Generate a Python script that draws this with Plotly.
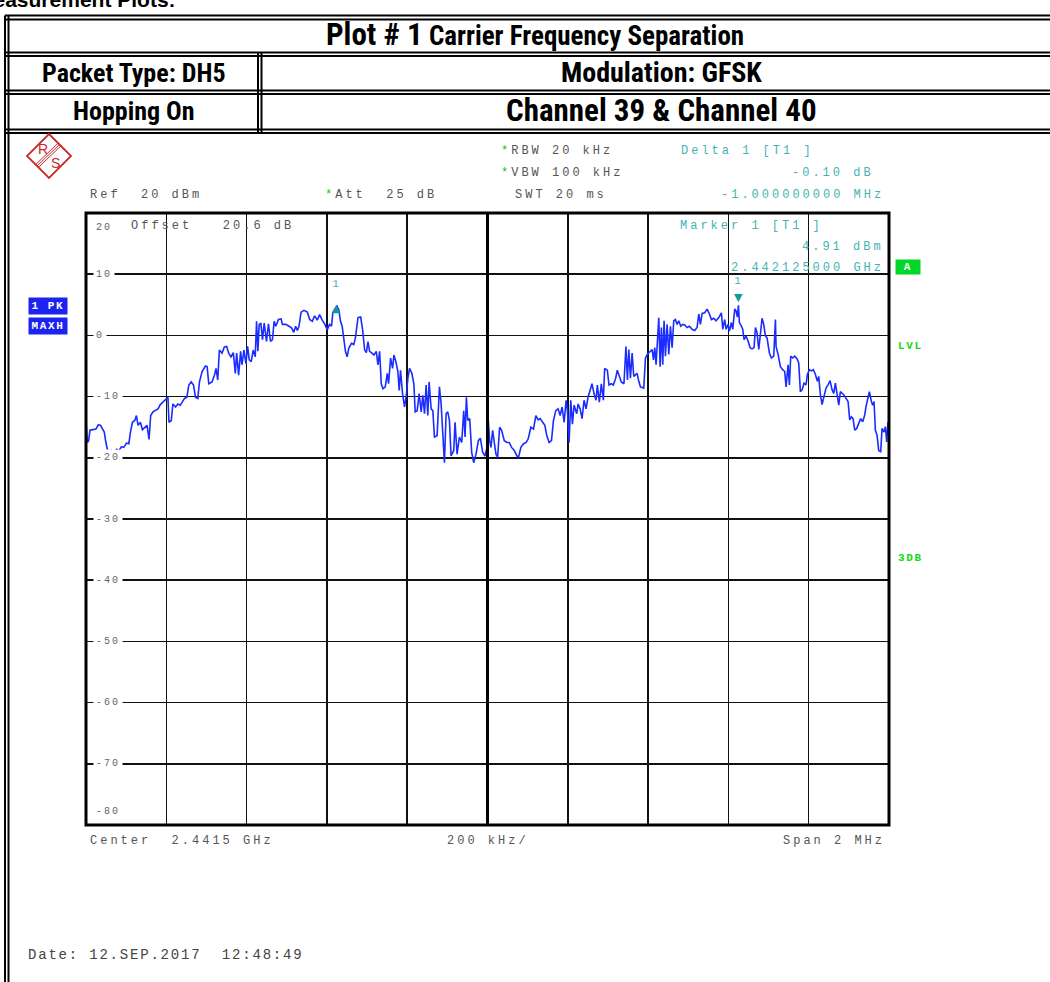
import plotly.graph_objects as go

# ---------------- data ----------------
CENTER_GHZ = 2.4415
SPAN_GHZ = 0.002
START_GHZ = CENTER_GHZ - SPAN_GHZ / 2
DIV_GHZ = 0.0002
Y_TOP = 20
Y_BOTTOM = -80
Y_TICKS = [20, 10, 0, -10, -20, -30, -40, -50, -60, -70, -80]

MARKER1_GHZ = 2.442125
MARKER1_DBM = 4.91
DELTA1_GHZ = 2.441125
DELTA1_DBM = 4.81

# trace: frequency offset from start of span (kHz) and level (dBm)
FREQ_KHZ_A = [0, 3.3, 6.6, 9.9, 16.5, 24.8, 30.6, 36.4, 41.3, 45.5,
              49.6, 55.4, 63.6, 69.4, 76.0, 82.6, 88.4, 94.2, 100.8, 106.6,
              110.7, 115.7, 121.5, 125.6, 129.7, 135.5, 140.5, 146.3, 152.1, 157.0,
              161.1, 166.9, 173.5, 179.3, 185.1, 191.7, 198.3, 204.1, 206.6, 212.4,
              216.5, 223.1, 228.9, 234.7, 239.7, 245.4, 251.2, 256.2, 262.0, 267.8,
              272.7, 278.5, 282.6, 289.2, 297.5, 301.6, 305.8, 314.0, 319.8, 323.9,
              328.1, 332.2, 338.8, 344.6, 350.4, 355.4, 361.1, 366.9, 371.9, 375.2,
              380.1, 385.1, 388.4, 393.4, 398.3, 402.5, 406.6, 411.5, 416.5, 421.5,
              424.8, 428.1, 431.4, 435.5, 439.6, 443.8, 449.6, 454.5, 459.5, 464.4,
              468.6, 472.7, 479.3, 485.9, 489.2, 497.5, 505.8, 512.4, 517.3, 522.3,
              526.4, 530.5, 535.7, 543.0, 551.3, 557.0, 563.6, 569.4, 575.9, 581.8,
              588.4, 595.0, 600.8, 606.6, 611.5, 614.8, 621.5, 625.0, 629.7, 633.9,
              638.0, 642.1, 646.2, 650.4, 654.5, 661.1, 666.9, 671.0]
LEVEL_A = [-13.9, -17.5, -17.2, -15.5, -15.4, -15.3, -14.6, -14.7, -15.3, -15.8,
           -17.5, -19.3, -18.8, -19.3, -18.6, -18.8, -18.2, -18.3, -17.6, -17.7,
           -15.8, -14.2, -13.9, -13.1, -14.7, -14.2, -15.4, -15.0, -14.7, -17.0,
           -13.1, -12.5, -12.3, -12.0, -11.3, -10.9, -10.6, -10.1, -14.2, -13.9,
           -11.2, -11.7, -11.2, -11.4, -10.9, -10.3, -10.1, -8.1, -7.6, -8.1,
           -10.1, -10.3, -7.6, -5.9, -5.0, -5.1, -7.9, -7.6, -6.5, -5.4,
           -7.3, -2.4, -2.9, -1.9, -1.8, -2.9, -3.5, -2.8, -6.2, -2.9,
           -6.5, -2.6, -4.8, -2.4, -4.6, -1.8, -4.0, -4.3, -2.4, -3.5,
           2.3, -2.6, 1.8, 2.0, -0.7, 2.0, -1.0, 1.9, -1.0, -0.7,
           2.3, 1.5, 2.6, 2.7, 1.8, 1.8, 1.5, 1.2, 0.5, 1.5,
           0.8, 1.5, 3.8, 4.1, 3.8, 2.6, 2.3, 3.2, 2.5, 3.4,
           2.5, 1.8, 0.9, 1.8, 1.5, 3.7, 4.5, 4.81, 4.2, 2.3,
           1.5, -0.2, -2.6, -3.5, -2.1, -1.3, -1.5, -0.4]

FREQ_KHZ_B = [677.5, 684.1, 689.0, 694.0, 698.2, 702.3, 706.4, 712.2, 717.2, 723.0,
              727.1, 731.3, 735.4, 739.6, 745.4, 750.3, 753.6, 758.6, 763.6, 766.9,
              771.8, 776.8, 780.1, 783.4, 788.4, 793.4, 798.3, 801.7, 805.8, 811.6,
              816.6, 819.9, 824.8, 829.8, 834.8, 838.9, 843.1, 847.2, 851.3, 854.6,
              859.6, 863.8, 867.9, 874.5, 880.3, 884.5, 888.6, 892.7, 896.9, 901.0,
              905.2, 909.3, 915.9, 919.2, 924.2, 930.0, 935.8, 940.8, 944.1, 947.4,
              950.7, 955.7, 960.6, 965.6, 971.4, 977.2, 982.2, 988.0, 993.8, 998.7,
              1002.0, 1005.3, 1008.7, 1012.8, 1016.9, 1021.1, 1025.2, 1030.2, 1035.2, 1041.8,
              1048.4, 1054.2, 1060.0, 1066.6, 1073.2, 1077.4, 1083.2, 1089.8, 1096.4, 1101.4,
              1108.0, 1114.6, 1120.4, 1126.2, 1131.2, 1137.0, 1142.8, 1147.8, 1153.5, 1159.4,
              1164.3, 1170.1, 1175.9, 1180.9, 1185.8, 1190.8, 1195.8, 1199.1, 1203.2, 1207.4,
              1211.5, 1215.7, 1222.3, 1225.6, 1230.6, 1235.5, 1240.5, 1245.5, 1250.4, 1255.4,
              1260.3, 1265.3, 1270.3, 1273.6, 1278.5, 1283.5, 1288.5, 1291.8, 1298.5, 1302.6,
              1308.4, 1313.4, 1319.2, 1323.3, 1328.3, 1333.3, 1339.9, 1344.8]
LEVEL_B = [2.9, 3.0, 0.9, -2.4, -2.8, -1.0, -2.6, -2.9, -3.2, -2.6,
           -4.8, -2.6, -7.9, -8.7, -8.4, -6.2, -7.9, -3.7, -5.4, -3.2,
           -4.3, -5.9, -9.0, -5.7, -9.5, -11.7, -9.5, -7.0, -5.4, -6.2,
           -7.9, -12.5, -12.3, -9.5, -12.5, -9.8, -12.8, -8.1, -13.1, -7.6,
           -12.0, -12.3, -16.6, -16.4, -8.4, -11.2, -16.1, -20.8, -12.8, -12.5,
           -13.9, -19.7, -18.8, -14.2, -19.4, -16.6, -17.5, -12.3, -16.6, -10.1,
           -13.9, -13.6, -19.1, -20.8, -19.4, -17.2, -16.8, -19.1, -19.7, -18.3,
           -13.9, -17.2, -18.3, -15.5, -17.5, -19.4, -19.9, -15.0, -15.5, -17.2,
           -17.5, -17.5, -18.3, -18.8, -19.7, -19.9, -18.3, -17.7, -17.5, -16.9,
           -15.0, -15.3, -13.1, -13.8, -13.6, -14.2, -14.7, -16.4, -17.5, -17.2,
           -13.9, -12.3, -12.0, -13.1, -11.7, -14.2, -10.6, -12.3, -17.5, -10.6,
           -14.5, -11.4, -12.8, -11.2, -12.0, -13.6, -10.6, -12.0, -10.1, -9.0,
           -7.9, -9.5, -10.6, -8.1, -10.9, -7.9, -10.6, -5.4, -5.7, -8.1,
           -7.9, -8.1, -7.0, -5.7, -6.8, -7.6, -7.9, -1.8]

FREQ_KHZ_C = [1348.5, 1351.9, 1356.0, 1360.2, 1364.3, 1368.5, 1372.6, 1376.8, 1380.9, 1385.1,
              1389.2, 1393.4, 1400.0, 1405.8, 1410.0, 1413.3, 1416.6, 1419.9, 1423.2, 1426.6,
              1429.9, 1433.2, 1436.5, 1439.8, 1443.2, 1447.3, 1451.5, 1455.6, 1459.8, 1463.9,
              1468.1, 1472.2, 1476.4, 1481.3, 1486.3, 1491.3, 1497.1, 1502.9, 1509.6, 1516.2,
              1522.0, 1526.2, 1530.3, 1534.5, 1541.1, 1546.9, 1552.7, 1557.7, 1563.5, 1569.3,
              1576.0, 1582.6, 1585.9, 1590.9, 1594.2, 1599.2, 1602.5, 1607.5, 1610.8, 1615.8,
              1619.1, 1622.4, 1625.0, 1627.4, 1632.4, 1635.7, 1639.0, 1644.0, 1649.0, 1654.0,
              1659.0, 1663.9, 1667.3, 1671.4, 1675.6, 1680.5, 1683.9, 1688.0, 1692.2, 1696.3,
              1702.1, 1707.1, 1712.9, 1717.1, 1718.7, 1723.7, 1729.5, 1735.3, 1740.3, 1743.6,
              1748.6, 1751.9, 1755.2, 1760.2, 1765.2, 1771.0, 1775.2, 1779.3, 1783.5, 1788.4,
              1793.4, 1796.7, 1801.7, 1806.7, 1811.7, 1816.7, 1821.6, 1825.0, 1829.1, 1833.3,
              1838.2, 1843.2, 1848.2, 1853.2, 1858.2, 1862.3, 1866.5, 1870.6, 1874.8, 1878.9,
              1883.1, 1887.2, 1893.0, 1898.0, 1902.2, 1906.3, 1910.5, 1914.6, 1919.6, 1924.6,
              1929.5, 1934.5, 1939.5, 1942.8, 1947.8, 1951.1, 1956.1, 1959.4, 1962.7, 1966.1,
              1970.2, 1974.4, 1979.4, 1982.7, 1987.6, 1991.0, 1994.3, 1997.6, 2000.0]
LEVEL_C = [-7.3, -2.3, -7.0, -2.9, -6.7, -6.4, -6.2, -7.5, -8.4, -8.5,
           -8.6, -3.7, -2.9, -2.6, -2.3, -4.0, -2.0, -4.8, 0.2, 2.9,
           -5.1, 1.3, -4.8, 2.4, -3.4, 1.8, -3.1, 1.5, -2.0, 2.4,
           2.6, 1.8, 2.4, 1.5, 1.8, 1.7, 1.3, 1.5, 1.0, 0.8,
           1.3, 3.5, 1.8, 3.6, 3.7, 4.3, 3.5, 2.6, 2.8, 2.4,
           2.9, 3.7, 1.0, 2.6, 1.0, 1.8, 0.7, 2.1, 1.0, 4.3,
           4.0, 3.0, 4.91, 2.1, 1.5, 1.0, -0.7, -0.1, -0.9, -2.0,
           -2.2, -2.0, 1.3, 0.4, -2.3, 0.2, 2.8, 1.8, -0.1, -0.4,
           -2.9, -3.7, -3.4, 2.6, -1.8, -3.1, -5.1, -5.6, -5.9, -8.4,
           -4.8, -8.1, -3.4, -3.7, -3.4, -3.8, -4.5, -9.2, -8.9, -7.8,
           -8.1, -6.4, -5.6, -5.8, -5.6, -6.4, -7.5, -6.7, -9.7, -11.3,
           -10.0, -8.6, -8.1, -7.4, -8.9, -9.5, -7.8, -9.6, -11.4, -9.2,
           -9.5, -9.7, -10.3, -10.8, -13.8, -13.3, -13.6, -15.5, -15.2, -14.4,
           -13.6, -14.1, -13.0, -11.6, -10.3, -9.2, -10.8, -11.4, -10.8, -15.5,
           -16.3, -18.8, -19.0, -15.2, -15.8, -14.9, -17.4, -14.1, -15.8]

# ---------------- geometry ----------------
W, H = 1050, 982
PL, PR, PT, PB = 86, 889, 213, 825


def X(px):
    return (px - PL) / (PR - PL)


def Y(py):
    return (PB - py) / (PB - PT)


MONO = "Liberation Mono, Courier New, monospace"
NARROW = "Liberation Sans Narrow, Arial Narrow, Roboto Condensed, Liberation Sans, sans-serif"
GRAY = "#555555"
TEAL = "#45b3b3"
TEAL_D = "#10999a"
GREEN = "#12d912"
BLUE = "#1a2cff"

freq_khz = FREQ_KHZ_A + FREQ_KHZ_B + FREQ_KHZ_C
level = LEVEL_A + LEVEL_B + LEVEL_C
freq_ghz = [START_GHZ + k / 1e6 for k in freq_khz]

fig = go.Figure()
fig.add_trace(go.Scatter(x=freq_ghz, y=level, mode="lines",
                         line=dict(color=BLUE, width=1.6), hoverinfo="skip",
                         showlegend=False))

annotations = []
shapes = []


def txt(text, px, py, xanchor="left", size=12, color=GRAY, family=MONO, **kw):
    d = dict(text=text, x=X(px), y=Y(py), xref="paper", yref="paper",
             xanchor=xanchor, yanchor="middle", showarrow=False,
             font=dict(family=family, size=size, color=color),
             align={"left": "left", "right": "right"}.get(xanchor, "center"))
    d.update(kw)
    annotations.append(d)


def line_px(x0, y0, x1, y1, width=2, color="black"):
    shapes.append(dict(type="line", xref="paper", yref="paper",
                       x0=X(x0), y0=Y(y0), x1=X(x1), y1=Y(y1),
                       line=dict(color=color, width=width), layer="above"))


# ---------------- header table ----------------
for yy in (15.5, 19.5, 52.5, 56, 90.5, 94, 129.5, 133):
    line_px(5, yy, 1052, yy, width=2)
for xx in (5, 8.5):
    line_px(xx, 15.5, xx, 984, width=2)
for xx in (258, 261.5):
    line_px(xx, 52.5, xx, 133, width=2)

txt("<b>Measurement Plots:</b>", 178, 0, xanchor="right", size=21,
    color="black", family="Liberation Sans, Arial, sans-serif")
txt("<b><span style='font-size:31px'>Plot # 1</span> Carrier Frequency Separation</b>",
    535, 35, xanchor="center", size=27, color="black", family=NARROW)
txt("<b>Packet Type: DH5</b>", 134, 73, xanchor="center", size=26, color="black", family=NARROW)
txt("<b>Modulation: GFSK</b>", 661, 73, xanchor="center", size=28, color="black", family=NARROW)
txt("<b>Hopping On</b>", 134, 111, xanchor="center", size=26, color="black", family=NARROW)
txt("<b>Channel 39 &amp; Channel 40</b>", 661, 111, xanchor="center", size=31,
    color="black", family=NARROW)

# ---------------- R&S logo ----------------
RED = "#cc2a2a"
shapes.append(dict(type="path", xref="paper", yref="paper",
                   path="M {} {} L {} {} L {} {} L {} {} Z".format(
                       X(49), Y(134), X(71), Y(156), X(49), Y(178), X(27), Y(156)),
                   line=dict(color=RED, width=1.8), layer="above"))
for off in (-2, 0, 2):
    line_px(37 + off * 0.7, 166 + off * 0.7, 60 + off * 0.7, 144 + off * 0.7, width=1, color=RED)
txt("R", 43, 149, xanchor="center", size=14, color=RED, family="Liberation Sans, sans-serif")
txt("S", 55, 163, xanchor="center", size=14, color=RED, family="Liberation Sans, sans-serif")

# ---------------- instrument settings text ----------------
STAR = "<span style='color:#00cc00'>*</span>"
txt("Ref  20 dBm", 88, 195)
txt(STAR + "Att  25 dB", 323, 195)
txt(STAR + "RBW 20 kHz", 499, 151)
txt(STAR + "VBW 100 kHz", 499, 173)
txt("SWT 20 ms", 513, 195)
txt("Delta 1 [T1 ]", 679, 151, color=TEAL)
txt("-0.10 dB", 876, 173, xanchor="right", color=TEAL)
txt("-1.000000000 MHz", 886, 195, xanchor="right", color=TEAL)
txt("Offset   20.6 dB", 129, 226)
txt("Marker 1 [T1 ]", 678, 226, color=TEAL)
txt("4.91 dBm", 886, 247, xanchor="right", color=TEAL)
txt("2.442125000 GHz", 886, 268, xanchor="right", color=TEAL)

txt("<b>1 PK</b>", 48, 306, xanchor="center", size=11, color="white",
    bgcolor="#1c22f0", width=36, height=14)
txt("<b>MAXH</b>", 48, 326, xanchor="center", size=11, color="white",
    bgcolor="#1c22f0", width=36, height=14)
txt("<b>A</b>", 908, 267, xanchor="center", size=11, color="white",
    bgcolor="#00d828", width=22, height=12)
txt("<b>LVL</b>", 896, 346, size=11, color=GREEN)
txt("<b>3DB</b>", 896, 558, size=11, color=GREEN)

txt("Center  2.4415 GHz", 88, 841)
txt("200 kHz/", 445, 841)
txt("Span 2 MHz", 887, 841, xanchor="right")
txt("Date: 12.SEP.2017  12:48:49", 26, 955, size=14, color="#444444")

# ---------------- y labels inside grid ----------------
for v in Y_TICKS:
    lab = str(v)
    shift = 0
    if v == Y_TOP:
        shift = -14
    elif v == Y_BOTTOM:
        shift = 14
    annotations.append(dict(text=lab, x=X(93), y=v, xref="paper", yref="y",
                            xanchor="left", yanchor="middle", yshift=shift,
                            showarrow=False, align="left",
                            font=dict(family=MONO, size=10, color="#666666"),
                            bgcolor="white" if v not in (Y_TOP, Y_BOTTOM) else None,
                            borderpad=2, width=8 * len(lab)))

# ---------------- markers ----------------
annotations.append(dict(text="▲", x=DELTA1_GHZ, y=DELTA1_DBM, xref="x", yref="y",
                        showarrow=False, yshift=-3, font=dict(size=11, color=TEAL_D,
                                                              family="DejaVu Sans")))
annotations.append(dict(text="1", x=DELTA1_GHZ, y=DELTA1_DBM, xref="x", yref="y",
                        showarrow=False, yshift=22, font=dict(size=11, color=TEAL, family=MONO)))
annotations.append(dict(text="▼", x=MARKER1_GHZ, y=MARKER1_DBM, xref="x", yref="y",
                        showarrow=False, yshift=8, font=dict(size=11, color=TEAL_D,
                                                             family="DejaVu Sans")))
annotations.append(dict(text="1", x=MARKER1_GHZ, y=MARKER1_DBM, xref="x", yref="y",
                        showarrow=False, yshift=24, font=dict(size=11, color=TEAL, family=MONO)))

# ---------------- grid frame ----------------
shapes.append(dict(type="line", xref="x", yref="paper", x0=CENTER_GHZ, x1=CENTER_GHZ,
                   y0=0, y1=1, line=dict(color="black", width=3), layer="above"))
shapes.append(dict(type="rect", xref="paper", yref="paper", x0=0, x1=1, y0=0, y1=1,
                   line=dict(color="black", width=3), layer="above"))

fig.update_layout(
    width=W, height=H, autosize=False,
    margin=dict(l=PL, r=W - PR, t=PT, b=H - PB, pad=0),
    paper_bgcolor="white", plot_bgcolor="white",
    showlegend=False,
    xaxis=dict(range=[START_GHZ, START_GHZ + SPAN_GHZ], tick0=START_GHZ, dtick=DIV_GHZ,
               showgrid=True, gridcolor="#111111", gridwidth=1.5, showticklabels=False,
               zeroline=False, showline=False, ticks="", fixedrange=True),
    yaxis=dict(range=[Y_BOTTOM, Y_TOP], tick0=0, dtick=10,
               showgrid=True, gridcolor="#111111", gridwidth=1.5, showticklabels=False,
               zeroline=False, showline=False, ticks="", fixedrange=True),
    annotations=annotations,
    shapes=shapes,
)

POST = """
document.body.style.margin='0';
document.body.style.overflow='hidden';
var sp={'12px':'3px','10px':'2px','14px':'1.8px','11px':'1.6px'};
document.querySelectorAll('text.annotation-text').forEach(function(t){
  t.style.whiteSpace='pre';
  var ff=t.style.fontFamily||'';
  if(ff.indexOf('Liberation Mono')>=0){var s=sp[t.style.fontSize]; if(s){t.style.letterSpacing=s;}}
});
"""

fig.write_html("out.html", config={"displayModeBar": False, "staticPlot": True},
               post_script=POST)
